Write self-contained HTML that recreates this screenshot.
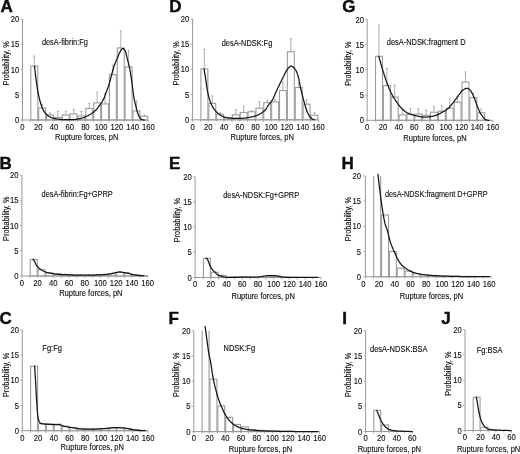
<!DOCTYPE html>
<html><head><meta charset="utf-8"><style>
html,body{margin:0;padding:0;background:#fff;width:520px;height:454px;overflow:hidden}
svg{display:block;filter:grayscale(1)}
text{font-family:"Liberation Sans", sans-serif;fill:#0d0d0d}
</style></head><body>
<svg width="520" height="454" viewBox="0 0 520 454">
<g><g fill="#fff" stroke="#9c9c9c" stroke-width="1.1"><rect x="30.81" y="66.07" width="6.96" height="53.93"/><rect x="38.67" y="107.9" width="6.96" height="12.1"/><rect x="46.53" y="114.96" width="6.96" height="5.04"/><rect x="54.39" y="117.48" width="6.96" height="2.52"/><rect x="62.25" y="114.96" width="6.96" height="5.04"/><rect x="70.11" y="113.95" width="6.96" height="6.05"/><rect x="77.97" y="115.97" width="6.96" height="4.03"/><rect x="85.83" y="108.41" width="6.96" height="11.59"/><rect x="93.69" y="102.86" width="6.96" height="17.14"/><rect x="101.55" y="103.87" width="6.96" height="16.13"/><rect x="109.41" y="74.64" width="6.96" height="45.36"/><rect x="117.27" y="47.93" width="6.96" height="72.07"/><rect x="125.13" y="66.83" width="6.96" height="53.17"/><rect x="132.99" y="110.93" width="6.96" height="9.07"/><rect x="140.85" y="116.22" width="6.96" height="3.78"/></g><path d="M34.29 66.07V55.99M33.29 55.99h2M42.15 107.9V104.38M41.15 104.38h2M50.01 114.96V112.94M49.01 112.94h2M57.87 117.48V111.43M56.87 111.43h2M65.73 114.96V111.43M64.73 111.43h2M73.59 113.95V109.42M72.59 109.42h2M81.45 115.97V111.43M80.45 111.43h2M89.31 108.41V103.37M88.31 103.37h2M97.17 102.86V92.28M96.17 92.28h2M105.03 103.87V93.79M104.03 93.79h2M112.89 74.64V65.06M111.89 65.06h2M120.75 47.93V30.79M119.75 30.79h2M128.61 66.83V50.45M127.61 50.45h2M136.47 110.93V100.85M135.47 100.85h2M144.33 116.22V114.96M143.33 114.96h2" stroke="#9c9c9c" stroke-width="0.8" fill="none"/><path d="M22.5 19.2V120H148.26" stroke="#9a9a9a" stroke-width="1.0" fill="none"/><path d="M20.5 120h2M20.5 94.8h2M20.5 69.6h2M20.5 44.4h2M20.5 19.2h2M22.5 120v2M30.36 120v2M38.22 120v2M46.08 120v2M53.94 120v2M61.8 120v2M69.66 120v2M77.52 120v2M85.38 120v2M93.24 120v2M101.1 120v2M108.96 120v2M116.82 120v2M124.68 120v2M132.54 120v2M140.4 120v2M148.26 120v2" stroke="#9a9a9a" stroke-width="0.8" fill="none"/><path d="M34.5 66.1L35.1 71.3L35.6 76.1L36.2 80.5L36.7 84.5L37.3 88.1L37.8 91.3L38.4 94.1L38.9 96.6L39.5 98.9L40.0 101.0L40.6 103.0L41.1 104.8L41.7 106.4L42.2 107.7L42.8 109.0L43.3 110.1L43.9 111.1L44.4 111.9L45.0 112.6L45.5 113.3L46.1 113.9L46.6 114.5L47.2 115.0L47.7 115.5L48.3 115.9L48.8 116.2L49.3 116.5L49.9 116.8L50.4 117.1L51.0 117.3L51.5 117.6L52.1 117.8L52.6 118.0L53.2 118.2L53.7 118.3L54.3 118.5L54.8 118.6L55.4 118.7L55.9 118.8L56.5 118.9L57.0 119.0L57.6 119.1L58.1 119.1L58.7 119.2L59.2 119.3L59.8 119.3L60.3 119.4L60.9 119.4L61.4 119.5L62.0 119.5L62.5 119.6L63.1 119.6L63.6 119.6L64.2 119.6L64.7 119.6L65.3 119.6L65.8 119.7L66.4 119.7L66.9 119.7L67.5 119.7L68.0 119.7L68.6 119.7L69.1 119.7L69.7 119.7L70.2 119.7L70.8 119.7L71.3 119.7L71.9 119.6L72.4 119.6L73.0 119.6L73.5 119.5L74.1 119.5L74.6 119.4L75.2 119.4L75.7 119.3L76.3 119.3L76.8 119.2L77.3 119.1L77.9 119.0L78.4 118.9L79.0 118.8L79.5 118.7L80.1 118.6L80.6 118.4L81.2 118.3L81.7 118.2L82.3 118.0L82.8 117.9L83.4 117.7L83.9 117.5L84.5 117.3L85.0 117.0L85.6 116.8L86.1 116.5L86.7 116.3L87.2 116.0L87.8 115.7L88.3 115.4L88.9 115.1L89.4 114.8L90.0 114.5L90.5 114.2L91.1 113.8L91.6 113.5L92.2 113.1L92.7 112.7L93.3 112.3L93.8 111.8L94.4 111.4L94.9 110.9L95.5 110.4L96.0 109.8L96.6 109.2L97.1 108.6L97.7 107.9L98.2 107.1L98.8 106.4L99.3 105.6L99.9 104.8L100.4 104.1L101.0 103.3L101.5 102.6L102.1 101.7L102.6 100.9L103.2 99.9L103.7 98.8L104.3 97.6L104.8 96.1L105.3 94.6L105.9 93.1L106.4 91.7L107.0 90.2L107.5 88.8L108.1 87.3L108.6 85.7L109.2 84.0L109.7 82.0L110.3 80.0L110.8 77.9L111.4 75.8L111.9 73.7L112.5 71.5L113.0 69.6L113.6 67.8L114.1 66.1L114.7 64.5L115.2 63.1L115.8 61.7L116.3 60.4L116.9 59.2L117.4 57.9L118.0 56.6L118.5 55.2L119.1 53.8L119.6 52.6L120.2 51.6L120.7 50.6L121.3 49.7L121.8 49.0L122.4 48.5L122.9 48.5L123.5 48.7L124.0 49.2L124.6 49.8L125.1 50.7L125.7 52.1L126.2 54.0L126.8 56.4L127.3 58.8L127.9 61.0L128.4 63.1L129.0 65.3L129.5 67.8L130.1 70.7L130.6 73.8L131.2 77.2L131.7 81.1L132.3 85.3L132.8 89.5L133.3 93.5L133.9 97.2L134.4 100.3L135.0 102.6L135.5 104.7L136.1 107.1L136.6 109.5L137.2 111.4L137.7 113.1L138.3 114.6L138.8 115.9L139.4 117.0L139.9 117.9L140.5 118.5L141.0 119.0L141.6 119.3L142.1 119.6L142.7 119.7L143.2 119.9L143.8 120.0L144.3 120.0" stroke="#141414" stroke-width="1.25" fill="none" stroke-linejoin="round" stroke-linecap="round"/></g>
<g><text x="14.95" y="123" font-size="8.5" textLength="4.25" lengthAdjust="spacingAndGlyphs" stroke="#0d0d0d" stroke-width="0.12">0</text><text x="14.95" y="97.8" font-size="8.5" textLength="4.25" lengthAdjust="spacingAndGlyphs" stroke="#0d0d0d" stroke-width="0.12">5</text><text x="10.69" y="72.6" font-size="8.5" textLength="8.51" lengthAdjust="spacingAndGlyphs" stroke="#0d0d0d" stroke-width="0.12">10</text><text x="10.69" y="47.4" font-size="8.5" textLength="8.51" lengthAdjust="spacingAndGlyphs" stroke="#0d0d0d" stroke-width="0.12">15</text><text x="10.69" y="22.2" font-size="8.5" textLength="8.51" lengthAdjust="spacingAndGlyphs" stroke="#0d0d0d" stroke-width="0.12">20</text><text x="20.37" y="129.8" font-size="8.5" textLength="4.25" lengthAdjust="spacingAndGlyphs" stroke="#0d0d0d" stroke-width="0.12">0</text><text x="33.97" y="129.8" font-size="8.5" textLength="8.51" lengthAdjust="spacingAndGlyphs" stroke="#0d0d0d" stroke-width="0.12">20</text><text x="49.69" y="129.8" font-size="8.5" textLength="8.51" lengthAdjust="spacingAndGlyphs" stroke="#0d0d0d" stroke-width="0.12">40</text><text x="65.41" y="129.8" font-size="8.5" textLength="8.51" lengthAdjust="spacingAndGlyphs" stroke="#0d0d0d" stroke-width="0.12">60</text><text x="81.13" y="129.8" font-size="8.5" textLength="8.51" lengthAdjust="spacingAndGlyphs" stroke="#0d0d0d" stroke-width="0.12">80</text><text x="94.72" y="129.8" font-size="8.5" textLength="12.76" lengthAdjust="spacingAndGlyphs" stroke="#0d0d0d" stroke-width="0.12">100</text><text x="110.44" y="129.8" font-size="8.5" textLength="12.76" lengthAdjust="spacingAndGlyphs" stroke="#0d0d0d" stroke-width="0.12">120</text><text x="126.16" y="129.8" font-size="8.5" textLength="12.76" lengthAdjust="spacingAndGlyphs" stroke="#0d0d0d" stroke-width="0.12">140</text><text x="141.88" y="129.8" font-size="8.5" textLength="12.76" lengthAdjust="spacingAndGlyphs" stroke="#0d0d0d" stroke-width="0.12">160</text></g>
<g><g fill="#fff" stroke="#9c9c9c" stroke-width="1.1"><rect x="200.91" y="68.9" width="6.96" height="50.9"/><rect x="208.77" y="103.42" width="6.96" height="16.38"/><rect x="216.63" y="114.26" width="6.96" height="5.54"/><rect x="224.49" y="117.78" width="6.96" height="2.02"/><rect x="232.35" y="114.76" width="6.96" height="5.04"/><rect x="240.21" y="112.49" width="6.96" height="7.31"/><rect x="248.07" y="111.74" width="6.96" height="8.06"/><rect x="255.93" y="108.21" width="6.96" height="11.59"/><rect x="263.79" y="102.66" width="6.96" height="17.14"/><rect x="271.65" y="101.91" width="6.96" height="17.89"/><rect x="279.51" y="90.57" width="6.96" height="29.23"/><rect x="287.37" y="51.76" width="6.96" height="68.04"/><rect x="295.23" y="87.54" width="6.96" height="32.26"/><rect x="303.09" y="104.18" width="6.96" height="15.62"/><rect x="310.95" y="115.26" width="6.96" height="4.54"/></g><path d="M204.39 68.9V49.24M203.39 49.24h2M212.25 103.42V95.86M211.25 95.86h2M220.11 114.26V112.74M219.11 112.74h2M227.97 117.78V117.28M226.97 117.28h2M235.83 114.76V109.72M234.83 109.72h2M243.69 112.49V106.19M242.69 106.19h2M251.55 111.74V110.73M250.55 110.73h2M259.41 108.21V101.66M258.41 101.66h2M267.27 102.66V100.14M266.27 100.14h2M275.13 101.91V99.64M274.13 99.64h2M282.99 90.57V82M281.99 82h2M290.85 51.76V38.66M289.85 38.66h2M298.71 87.54V83.01M297.71 83.01h2M306.57 104.18V99.64M305.57 99.64h2M314.43 115.26V112.49M313.43 112.49h2" stroke="#9c9c9c" stroke-width="0.8" fill="none"/><path d="M192.6 19V119.8H318.36" stroke="#9a9a9a" stroke-width="1.0" fill="none"/><path d="M190.6 119.8h2M190.6 94.6h2M190.6 69.4h2M190.6 44.2h2M190.6 19h2M192.6 119.8v2M200.46 119.8v2M208.32 119.8v2M216.18 119.8v2M224.04 119.8v2M231.9 119.8v2M239.76 119.8v2M247.62 119.8v2M255.48 119.8v2M263.34 119.8v2M271.2 119.8v2M279.06 119.8v2M286.92 119.8v2M294.78 119.8v2M302.64 119.8v2M310.5 119.8v2M318.36 119.8v2" stroke="#9a9a9a" stroke-width="0.8" fill="none"/><path d="M204.1 68.9L204.6 72.3L205.2 75.9L205.7 79.4L206.3 83.2L206.8 87.1L207.4 90.4L207.9 93.2L208.5 95.6L209.0 97.7L209.6 99.6L210.1 101.2L210.7 102.8L211.2 104.1L211.8 105.3L212.3 106.4L212.9 107.3L213.4 108.2L214.0 109.0L214.5 109.7L215.1 110.4L215.6 111.0L216.2 111.6L216.7 112.2L217.3 112.7L217.8 113.2L218.4 113.6L218.9 114.1L219.4 114.5L220.0 114.9L220.5 115.2L221.1 115.6L221.6 115.9L222.2 116.2L222.7 116.4L223.3 116.7L223.8 116.9L224.4 117.1L224.9 117.3L225.5 117.4L226.0 117.5L226.6 117.7L227.1 117.8L227.7 117.9L228.2 118.0L228.8 118.1L229.3 118.1L229.9 118.2L230.4 118.2L231.0 118.2L231.5 118.3L232.1 118.3L232.6 118.3L233.2 118.4L233.7 118.4L234.3 118.4L234.8 118.4L235.4 118.4L235.9 118.4L236.5 118.4L237.0 118.4L237.6 118.4L238.1 118.4L238.7 118.4L239.2 118.4L239.8 118.4L240.3 118.4L240.9 118.4L241.4 118.3L242.0 118.3L242.5 118.2L243.1 118.2L243.6 118.1L244.2 118.1L244.7 118.0L245.3 118.0L245.8 117.9L246.4 117.8L246.9 117.8L247.4 117.7L248.0 117.6L248.5 117.5L249.1 117.4L249.6 117.3L250.2 117.2L250.7 117.1L251.3 117.0L251.8 116.9L252.4 116.8L252.9 116.7L253.5 116.5L254.0 116.4L254.6 116.2L255.1 116.1L255.7 115.9L256.2 115.7L256.8 115.5L257.3 115.2L257.9 115.0L258.4 114.7L259.0 114.4L259.5 114.1L260.1 113.8L260.6 113.5L261.2 113.2L261.7 112.9L262.3 112.5L262.8 112.1L263.4 111.7L263.9 111.3L264.5 110.8L265.0 110.3L265.6 109.6L266.1 108.8L266.7 108.0L267.2 107.0L267.8 106.1L268.3 105.3L268.9 104.5L269.4 103.8L270.0 103.2L270.5 102.5L271.1 101.8L271.6 101.0L272.2 100.2L272.7 99.3L273.3 98.2L273.8 97.1L274.4 95.8L274.9 94.6L275.4 93.3L276.0 92.0L276.5 90.8L277.1 89.7L277.6 88.5L278.2 87.3L278.7 86.1L279.3 85.0L279.8 83.8L280.4 82.7L280.9 81.6L281.5 80.5L282.0 79.4L282.6 78.4L283.1 77.3L283.7 76.2L284.2 75.0L284.8 73.9L285.3 72.7L285.9 71.6L286.4 70.7L287.0 69.8L287.5 69.0L288.1 68.3L288.6 67.8L289.2 67.2L289.7 66.7L290.3 66.3L290.8 66.0L291.4 66.1L291.9 66.3L292.5 66.6L293.0 66.9L293.6 67.4L294.1 67.9L294.7 68.5L295.2 69.3L295.8 70.2L296.3 71.2L296.9 72.4L297.4 73.9L298.0 75.6L298.5 77.7L299.1 80.4L299.6 83.2L300.2 85.9L300.7 88.6L301.3 91.0L301.8 93.1L302.4 95.2L302.9 97.3L303.4 99.5L304.0 101.5L304.5 103.5L305.1 105.4L305.6 107.3L306.2 109.0L306.7 110.6L307.3 112.0L307.8 113.2L308.4 114.3L308.9 115.3L309.5 116.2L310.0 117.0L310.6 117.6L311.1 118.1L311.7 118.6L312.2 119.0L312.8 119.2L313.3 119.4L313.9 119.6L314.4 119.7" stroke="#141414" stroke-width="1.25" fill="none" stroke-linejoin="round" stroke-linecap="round"/></g>
<g><text x="185.05" y="122.8" font-size="8.5" textLength="4.25" lengthAdjust="spacingAndGlyphs" stroke="#0d0d0d" stroke-width="0.12">0</text><text x="185.05" y="97.6" font-size="8.5" textLength="4.25" lengthAdjust="spacingAndGlyphs" stroke="#0d0d0d" stroke-width="0.12">5</text><text x="180.79" y="72.4" font-size="8.5" textLength="8.51" lengthAdjust="spacingAndGlyphs" stroke="#0d0d0d" stroke-width="0.12">10</text><text x="180.79" y="47.2" font-size="8.5" textLength="8.51" lengthAdjust="spacingAndGlyphs" stroke="#0d0d0d" stroke-width="0.12">15</text><text x="180.79" y="22" font-size="8.5" textLength="8.51" lengthAdjust="spacingAndGlyphs" stroke="#0d0d0d" stroke-width="0.12">20</text><text x="190.47" y="129.6" font-size="8.5" textLength="4.25" lengthAdjust="spacingAndGlyphs" stroke="#0d0d0d" stroke-width="0.12">0</text><text x="204.07" y="129.6" font-size="8.5" textLength="8.51" lengthAdjust="spacingAndGlyphs" stroke="#0d0d0d" stroke-width="0.12">20</text><text x="219.79" y="129.6" font-size="8.5" textLength="8.51" lengthAdjust="spacingAndGlyphs" stroke="#0d0d0d" stroke-width="0.12">40</text><text x="235.51" y="129.6" font-size="8.5" textLength="8.51" lengthAdjust="spacingAndGlyphs" stroke="#0d0d0d" stroke-width="0.12">60</text><text x="251.23" y="129.6" font-size="8.5" textLength="8.51" lengthAdjust="spacingAndGlyphs" stroke="#0d0d0d" stroke-width="0.12">80</text><text x="264.82" y="129.6" font-size="8.5" textLength="12.76" lengthAdjust="spacingAndGlyphs" stroke="#0d0d0d" stroke-width="0.12">100</text><text x="280.54" y="129.6" font-size="8.5" textLength="12.76" lengthAdjust="spacingAndGlyphs" stroke="#0d0d0d" stroke-width="0.12">120</text><text x="296.26" y="129.6" font-size="8.5" textLength="12.76" lengthAdjust="spacingAndGlyphs" stroke="#0d0d0d" stroke-width="0.12">140</text><text x="311.98" y="129.6" font-size="8.5" textLength="12.76" lengthAdjust="spacingAndGlyphs" stroke="#0d0d0d" stroke-width="0.12">160</text></g>
<g><g fill="#fff" stroke="#9c9c9c" stroke-width="1.1"><rect x="375.51" y="56.29" width="6.96" height="64.01"/><rect x="383.37" y="85.52" width="6.96" height="34.78"/><rect x="391.23" y="97.12" width="6.96" height="23.18"/><rect x="399.09" y="114.91" width="6.96" height="5.39"/><rect x="406.95" y="114.1" width="6.96" height="6.2"/><rect x="414.81" y="114.1" width="6.96" height="6.2"/><rect x="422.67" y="115.41" width="6.96" height="4.89"/><rect x="430.53" y="112.24" width="6.96" height="8.06"/><rect x="438.39" y="111.23" width="6.96" height="9.07"/><rect x="446.25" y="108.2" width="6.96" height="12.1"/><rect x="454.11" y="102.16" width="6.96" height="18.14"/><rect x="461.97" y="82" width="6.96" height="38.3"/><rect x="469.83" y="97.62" width="6.96" height="22.68"/><rect x="477.69" y="112.74" width="6.96" height="7.56"/></g><path d="M378.99 56.29V25.04M377.99 25.04h2M386.85 85.52V68.39M385.85 68.39h2M394.71 97.12V85.02M393.71 85.02h2M402.57 114.91V110.22M401.57 110.22h2M410.43 114.1V108.41M409.43 108.41h2M418.29 114.1V108.71M417.29 108.71h2M426.15 115.41V110.22M425.15 110.22h2M434.01 112.24V106.69M433.01 106.69h2M441.87 111.23V105.68M440.87 105.68h2M449.73 108.2V98.63M448.73 98.63h2M457.59 102.16V96.61M456.59 96.61h2M465.45 82V71.92M464.45 71.92h2M473.31 97.62V92.83M472.31 92.83h2M481.17 112.74V109.21M480.17 109.21h2" stroke="#9c9c9c" stroke-width="0.8" fill="none"/><path d="M367.2 19.5V120.3H492.96" stroke="#9a9a9a" stroke-width="1.0" fill="none"/><path d="M365.2 120.3h2M365.2 95.1h2M365.2 69.9h2M365.2 44.7h2M365.2 19.5h2M367.2 120.3v2M375.06 120.3v2M382.92 120.3v2M390.78 120.3v2M398.64 120.3v2M406.5 120.3v2M414.36 120.3v2M422.22 120.3v2M430.08 120.3v2M437.94 120.3v2M445.8 120.3v2M453.66 120.3v2M461.52 120.3v2M469.38 120.3v2M477.24 120.3v2M485.1 120.3v2M492.96 120.3v2" stroke="#9a9a9a" stroke-width="0.8" fill="none"/><path d="M378.8 56.3L379.4 58.3L379.9 60.3L380.5 62.3L381.0 64.2L381.6 66.1L382.1 68.0L382.7 69.8L383.2 71.6L383.8 73.4L384.3 75.1L384.9 76.8L385.4 78.4L386.0 80.1L386.5 81.6L387.1 83.1L387.6 84.6L388.2 86.0L388.7 87.4L389.2 88.8L389.8 90.1L390.3 91.4L390.9 92.5L391.4 93.6L392.0 94.6L392.5 95.6L393.1 96.6L393.6 97.5L394.2 98.3L394.7 99.2L395.3 100.0L395.8 100.8L396.4 101.6L396.9 102.4L397.5 103.2L398.0 104.0L398.6 104.8L399.1 105.5L399.7 106.2L400.2 106.9L400.8 107.5L401.3 108.1L401.9 108.6L402.4 109.1L403.0 109.6L403.5 110.1L404.1 110.6L404.6 111.0L405.1 111.5L405.7 111.9L406.2 112.2L406.8 112.6L407.3 112.9L407.9 113.2L408.4 113.4L409.0 113.7L409.5 113.9L410.1 114.1L410.6 114.3L411.2 114.5L411.7 114.6L412.3 114.8L412.8 115.0L413.4 115.1L413.9 115.3L414.5 115.4L415.0 115.5L415.6 115.6L416.1 115.8L416.7 115.9L417.2 116.0L417.8 116.1L418.3 116.3L418.9 116.4L419.4 116.5L420.0 116.6L420.5 116.7L421.0 116.8L421.6 116.9L422.1 117.0L422.7 117.0L423.2 117.1L423.8 117.1L424.3 117.1L424.9 117.1L425.4 117.1L426.0 117.1L426.5 117.0L427.1 117.0L427.6 117.0L428.2 116.9L428.7 116.8L429.3 116.8L429.8 116.7L430.4 116.6L430.9 116.5L431.5 116.4L432.0 116.3L432.6 116.3L433.1 116.2L433.7 116.0L434.2 115.9L434.8 115.7L435.3 115.6L435.9 115.4L436.4 115.2L436.9 115.0L437.5 114.7L438.0 114.5L438.6 114.2L439.1 113.9L439.7 113.7L440.2 113.4L440.8 113.0L441.3 112.7L441.9 112.4L442.4 112.1L443.0 111.8L443.5 111.5L444.1 111.2L444.6 110.9L445.2 110.6L445.7 110.2L446.3 109.9L446.8 109.5L447.4 109.1L447.9 108.6L448.5 108.1L449.0 107.6L449.6 107.0L450.1 106.3L450.7 105.7L451.2 105.0L451.7 104.4L452.3 103.7L452.8 103.0L453.4 102.3L453.9 101.6L454.5 100.9L455.0 100.1L455.6 99.3L456.1 98.6L456.7 97.8L457.2 97.0L457.8 96.3L458.3 95.6L458.9 94.9L459.4 94.2L460.0 93.4L460.5 92.7L461.1 92.0L461.6 91.4L462.2 90.8L462.7 90.3L463.3 89.8L463.8 89.5L464.4 89.2L464.9 88.9L465.5 88.6L466.0 88.4L466.6 88.3L467.1 88.3L467.6 88.4L468.2 88.7L468.7 89.0L469.3 89.4L469.8 89.9L470.4 90.4L470.9 91.2L471.5 92.1L472.0 93.1L472.6 94.1L473.1 95.2L473.7 96.4L474.2 97.8L474.8 99.3L475.3 100.8L475.9 102.4L476.4 103.9L477.0 105.3L477.5 106.7L478.1 108.1L478.6 109.5L479.2 110.8L479.7 112.0L480.3 113.1L480.8 113.9L481.4 114.7L481.9 115.4L482.5 116.2L483.0 117.0L483.5 117.8L484.1 118.5L484.6 119.0L485.2 119.4L485.7 119.7L486.3 119.9L486.8 120.1L487.4 120.2L487.9 120.2L488.5 120.3L489.0 120.3" stroke="#141414" stroke-width="1.25" fill="none" stroke-linejoin="round" stroke-linecap="round"/></g>
<g><text x="359.65" y="123.3" font-size="8.5" textLength="4.25" lengthAdjust="spacingAndGlyphs" stroke="#0d0d0d" stroke-width="0.12">0</text><text x="359.65" y="98.1" font-size="8.5" textLength="4.25" lengthAdjust="spacingAndGlyphs" stroke="#0d0d0d" stroke-width="0.12">5</text><text x="355.39" y="72.9" font-size="8.5" textLength="8.51" lengthAdjust="spacingAndGlyphs" stroke="#0d0d0d" stroke-width="0.12">10</text><text x="355.39" y="47.7" font-size="8.5" textLength="8.51" lengthAdjust="spacingAndGlyphs" stroke="#0d0d0d" stroke-width="0.12">15</text><text x="355.39" y="22.5" font-size="8.5" textLength="8.51" lengthAdjust="spacingAndGlyphs" stroke="#0d0d0d" stroke-width="0.12">20</text><text x="365.07" y="130.1" font-size="8.5" textLength="4.25" lengthAdjust="spacingAndGlyphs" stroke="#0d0d0d" stroke-width="0.12">0</text><text x="378.67" y="130.1" font-size="8.5" textLength="8.51" lengthAdjust="spacingAndGlyphs" stroke="#0d0d0d" stroke-width="0.12">20</text><text x="394.39" y="130.1" font-size="8.5" textLength="8.51" lengthAdjust="spacingAndGlyphs" stroke="#0d0d0d" stroke-width="0.12">40</text><text x="410.11" y="130.1" font-size="8.5" textLength="8.51" lengthAdjust="spacingAndGlyphs" stroke="#0d0d0d" stroke-width="0.12">60</text><text x="425.83" y="130.1" font-size="8.5" textLength="8.51" lengthAdjust="spacingAndGlyphs" stroke="#0d0d0d" stroke-width="0.12">80</text><text x="439.42" y="130.1" font-size="8.5" textLength="12.76" lengthAdjust="spacingAndGlyphs" stroke="#0d0d0d" stroke-width="0.12">100</text><text x="455.14" y="130.1" font-size="8.5" textLength="12.76" lengthAdjust="spacingAndGlyphs" stroke="#0d0d0d" stroke-width="0.12">120</text><text x="470.86" y="130.1" font-size="8.5" textLength="12.76" lengthAdjust="spacingAndGlyphs" stroke="#0d0d0d" stroke-width="0.12">140</text><text x="486.58" y="130.1" font-size="8.5" textLength="12.76" lengthAdjust="spacingAndGlyphs" stroke="#0d0d0d" stroke-width="0.12">160</text></g>
<g><g fill="#fff" stroke="#9c9c9c" stroke-width="1.1"><rect x="30.21" y="259.52" width="6.96" height="16.48"/><rect x="38.07" y="269.7" width="6.96" height="6.3"/><rect x="45.93" y="272.82" width="6.96" height="3.18"/><rect x="53.79" y="273.88" width="6.96" height="2.12"/><rect x="61.65" y="274.74" width="6.96" height="1.26"/><rect x="69.51" y="274.99" width="6.96" height="1.01"/><rect x="77.37" y="275.24" width="6.96" height="0.76"/><rect x="85.23" y="275.24" width="6.96" height="0.76"/><rect x="93.09" y="274.99" width="6.96" height="1.01"/><rect x="100.95" y="274.74" width="6.96" height="1.26"/><rect x="108.81" y="273.73" width="6.96" height="2.27"/><rect x="116.67" y="272.47" width="6.96" height="3.53"/><rect x="124.53" y="273.48" width="6.96" height="2.52"/><rect x="132.39" y="274.99" width="6.96" height="1.01"/><rect x="140.25" y="275.5" width="6.96" height="0.5"/></g><path d="M33.69 259.52V258.86M32.69 258.86h2M41.55 269.7V269.2M40.55 269.2h2M49.41 272.82V272.47M48.41 272.47h2M57.27 273.88V273.48M56.27 273.48h2M65.13 274.74V274.24M64.13 274.24h2M72.99 274.99V274.49M71.99 274.49h2M80.85 275.24V274.74M79.85 274.74h2M88.71 275.24V274.74M87.71 274.74h2M96.57 274.99V274.49M95.57 274.49h2M104.43 274.74V274.24M103.43 274.24h2M112.29 273.73V272.98M111.29 272.98h2M120.15 272.47V271.46M119.15 271.46h2M128.01 273.48V272.47M127.01 272.47h2M135.87 274.99V274.49M134.87 274.49h2" stroke="#9c9c9c" stroke-width="0.8" fill="none"/><path d="M21.9 175.2V276H147.66" stroke="#9a9a9a" stroke-width="1.0" fill="none"/><path d="M19.9 276h2M19.9 250.8h2M19.9 225.6h2M19.9 200.4h2M19.9 175.2h2M21.9 276v2M29.76 276v2M37.62 276v2M45.48 276v2M53.34 276v2M61.2 276v2M69.06 276v2M76.92 276v2M84.78 276v2M92.64 276v2M100.5 276v2M108.36 276v2M116.22 276v2M124.08 276v2M131.94 276v2M139.8 276v2M147.66 276v2" stroke="#9a9a9a" stroke-width="0.8" fill="none"/><path d="M32.9 259.5L33.5 259.9L34.0 260.5L34.5 261.3L35.1 262.4L35.6 263.7L36.2 264.7L36.7 265.6L37.3 266.4L37.8 267.0L38.4 267.6L38.9 268.1L39.5 268.6L40.0 269.1L40.6 269.5L41.1 269.8L41.7 270.2L42.2 270.5L42.8 270.8L43.3 271.0L43.9 271.3L44.4 271.5L45.0 271.8L45.5 272.0L46.1 272.2L46.6 272.4L47.2 272.5L47.7 272.7L48.3 272.8L48.8 272.9L49.4 273.0L49.9 273.1L50.5 273.2L51.0 273.3L51.6 273.4L52.1 273.5L52.7 273.6L53.2 273.7L53.8 273.8L54.3 273.9L54.8 274.0L55.4 274.0L55.9 274.1L56.5 274.2L57.0 274.2L57.6 274.2L58.1 274.3L58.7 274.3L59.2 274.3L59.8 274.4L60.3 274.4L60.9 274.4L61.4 274.5L62.0 274.5L62.5 274.5L63.1 274.5L63.6 274.5L64.2 274.6L64.7 274.6L65.3 274.6L65.8 274.7L66.4 274.7L66.9 274.7L67.5 274.7L68.0 274.8L68.6 274.8L69.1 274.8L69.7 274.9L70.2 274.9L70.8 274.9L71.3 274.9L71.9 275.0L72.4 275.0L73.0 275.0L73.5 275.0L74.1 275.0L74.6 275.0L75.1 275.0L75.7 275.0L76.2 275.0L76.8 275.0L77.3 275.0L77.9 275.0L78.4 275.0L79.0 275.0L79.5 275.0L80.1 275.0L80.6 275.0L81.2 275.0L81.7 275.0L82.3 275.0L82.8 275.0L83.4 275.0L83.9 275.0L84.5 275.0L85.0 275.0L85.6 275.0L86.1 275.0L86.7 275.0L87.2 275.0L87.8 275.0L88.3 275.0L88.9 275.0L89.4 275.0L90.0 275.0L90.5 275.0L91.1 275.0L91.6 275.0L92.2 275.0L92.7 275.0L93.3 275.0L93.8 275.0L94.4 275.0L94.9 275.0L95.4 275.0L96.0 274.9L96.5 274.9L97.1 274.9L97.6 274.9L98.2 274.9L98.7 274.8L99.3 274.8L99.8 274.8L100.4 274.8L100.9 274.7L101.5 274.7L102.0 274.7L102.6 274.6L103.1 274.6L103.7 274.6L104.2 274.5L104.8 274.5L105.3 274.4L105.9 274.4L106.4 274.4L107.0 274.3L107.5 274.3L108.1 274.2L108.6 274.1L109.2 274.1L109.7 274.0L110.3 273.9L110.8 273.9L111.4 273.8L111.9 273.7L112.5 273.5L113.0 273.3L113.6 273.1L114.1 273.0L114.7 272.8L115.2 272.6L115.7 272.5L116.3 272.4L116.8 272.3L117.4 272.2L117.9 272.1L118.5 272.0L119.0 272.0L119.6 271.9L120.1 271.9L120.7 272.0L121.2 272.0L121.8 272.1L122.3 272.2L122.9 272.3L123.4 272.4L124.0 272.5L124.5 272.5L125.1 272.6L125.6 272.7L126.2 272.8L126.7 272.9L127.3 273.0L127.8 273.1L128.4 273.3L128.9 273.4L129.5 273.6L130.0 273.8L130.6 274.0L131.1 274.2L131.7 274.3L132.2 274.5L132.8 274.6L133.3 274.7L133.9 274.8L134.4 274.8L135.0 274.9L135.5 275.0L136.0 275.1L136.6 275.1L137.1 275.2L137.7 275.3L138.2 275.3L138.8 275.4L139.3 275.4L139.9 275.5L140.4 275.5L141.0 275.5L141.5 275.6L142.1 275.6L142.6 275.7L143.2 275.7L143.7 275.7" stroke="#141414" stroke-width="1.25" fill="none" stroke-linejoin="round" stroke-linecap="round"/></g>
<g><text x="14.35" y="279" font-size="8.5" textLength="4.25" lengthAdjust="spacingAndGlyphs" stroke="#0d0d0d" stroke-width="0.12">0</text><text x="14.35" y="253.8" font-size="8.5" textLength="4.25" lengthAdjust="spacingAndGlyphs" stroke="#0d0d0d" stroke-width="0.12">5</text><text x="10.09" y="228.6" font-size="8.5" textLength="8.51" lengthAdjust="spacingAndGlyphs" stroke="#0d0d0d" stroke-width="0.12">10</text><text x="10.09" y="203.4" font-size="8.5" textLength="8.51" lengthAdjust="spacingAndGlyphs" stroke="#0d0d0d" stroke-width="0.12">15</text><text x="10.09" y="178.2" font-size="8.5" textLength="8.51" lengthAdjust="spacingAndGlyphs" stroke="#0d0d0d" stroke-width="0.12">20</text><text x="19.77" y="285.8" font-size="8.5" textLength="4.25" lengthAdjust="spacingAndGlyphs" stroke="#0d0d0d" stroke-width="0.12">0</text><text x="33.37" y="285.8" font-size="8.5" textLength="8.51" lengthAdjust="spacingAndGlyphs" stroke="#0d0d0d" stroke-width="0.12">20</text><text x="49.09" y="285.8" font-size="8.5" textLength="8.51" lengthAdjust="spacingAndGlyphs" stroke="#0d0d0d" stroke-width="0.12">40</text><text x="64.81" y="285.8" font-size="8.5" textLength="8.51" lengthAdjust="spacingAndGlyphs" stroke="#0d0d0d" stroke-width="0.12">60</text><text x="80.53" y="285.8" font-size="8.5" textLength="8.51" lengthAdjust="spacingAndGlyphs" stroke="#0d0d0d" stroke-width="0.12">80</text><text x="94.12" y="285.8" font-size="8.5" textLength="12.76" lengthAdjust="spacingAndGlyphs" stroke="#0d0d0d" stroke-width="0.12">100</text><text x="109.84" y="285.8" font-size="8.5" textLength="12.76" lengthAdjust="spacingAndGlyphs" stroke="#0d0d0d" stroke-width="0.12">120</text><text x="125.56" y="285.8" font-size="8.5" textLength="12.76" lengthAdjust="spacingAndGlyphs" stroke="#0d0d0d" stroke-width="0.12">140</text><text x="141.28" y="285.8" font-size="8.5" textLength="12.76" lengthAdjust="spacingAndGlyphs" stroke="#0d0d0d" stroke-width="0.12">160</text></g>
<g><g fill="#fff" stroke="#9c9c9c" stroke-width="1.1"><rect x="203.41" y="258.4" width="6.96" height="19.1"/><rect x="211.27" y="272.31" width="6.96" height="5.19"/><rect x="219.13" y="275.48" width="6.96" height="2.02"/><rect x="226.99" y="277" width="6.96" height="0.5"/><rect x="234.85" y="276.74" width="6.96" height="0.76"/><rect x="242.71" y="277" width="6.96" height="0.5"/><rect x="250.57" y="277.25" width="6.96" height="0.25"/><rect x="258.43" y="277.25" width="6.96" height="0.25"/><rect x="266.29" y="276.24" width="6.96" height="1.26"/><rect x="274.15" y="276.24" width="6.96" height="1.26"/><rect x="282.01" y="277" width="6.96" height="0.5"/><rect x="289.87" y="277.25" width="6.96" height="0.25"/></g><path d="M206.89 258.4V257.84M205.89 257.84h2M214.75 272.31V271.45M213.75 271.45h2M222.61 275.48V274.98M221.61 274.98h2" stroke="#9c9c9c" stroke-width="0.8" fill="none"/><path d="M195.1 176.7V277.5H320.86" stroke="#9a9a9a" stroke-width="1.0" fill="none"/><path d="M193.1 277.5h2M193.1 252.3h2M193.1 227.1h2M193.1 201.9h2M193.1 176.7h2M195.1 277.5v2M202.96 277.5v2M210.82 277.5v2M218.68 277.5v2M226.54 277.5v2M234.4 277.5v2M242.26 277.5v2M250.12 277.5v2M257.98 277.5v2M265.84 277.5v2M273.7 277.5v2M281.56 277.5v2M289.42 277.5v2M297.28 277.5v2M305.14 277.5v2M313 277.5v2M320.86 277.5v2" stroke="#9a9a9a" stroke-width="0.8" fill="none"/><path d="M206.0 258.4L206.6 258.5L207.1 258.9L207.7 259.6L208.2 261.1L208.8 262.6L209.3 264.1L209.9 265.5L210.4 266.7L211.0 267.6L211.5 268.4L212.0 269.2L212.6 269.9L213.1 270.5L213.7 271.1L214.2 271.6L214.8 272.1L215.3 272.6L215.9 273.2L216.4 273.7L217.0 274.2L217.5 274.7L218.1 275.1L218.6 275.4L219.2 275.6L219.7 275.7L220.3 275.9L220.8 276.0L221.4 276.1L221.9 276.3L222.5 276.5L223.0 276.7L223.5 276.9L224.1 277.0L224.6 277.1L225.2 277.2L225.7 277.3L226.3 277.3L226.8 277.4L227.4 277.4L227.9 277.4L228.5 277.4L229.0 277.4L229.6 277.4L230.1 277.4L230.7 277.4L231.2 277.4L231.8 277.4L232.3 277.4L232.9 277.4L233.4 277.3L233.9 277.3L234.5 277.3L235.0 277.3L235.6 277.3L236.1 277.3L236.7 277.3L237.2 277.3L237.8 277.3L238.3 277.3L238.9 277.3L239.4 277.3L240.0 277.2L240.5 277.2L241.1 277.2L241.6 277.2L242.2 277.2L242.7 277.2L243.3 277.2L243.8 277.2L244.4 277.2L244.9 277.2L245.4 277.2L246.0 277.2L246.5 277.2L247.1 277.2L247.6 277.2L248.2 277.2L248.7 277.2L249.3 277.2L249.8 277.2L250.4 277.2L250.9 277.2L251.5 277.2L252.0 277.2L252.6 277.2L253.1 277.2L253.7 277.2L254.2 277.1L254.8 277.1L255.3 277.1L255.8 277.1L256.4 277.1L256.9 277.1L257.5 277.1L258.0 277.1L258.6 277.0L259.1 276.9L259.7 276.9L260.2 276.8L260.8 276.7L261.3 276.5L261.9 276.4L262.4 276.3L263.0 276.3L263.5 276.2L264.1 276.1L264.6 276.0L265.2 275.9L265.7 275.8L266.3 275.7L266.8 275.6L267.3 275.6L267.9 275.5L268.4 275.5L269.0 275.5L269.5 275.5L270.1 275.5L270.6 275.5L271.2 275.5L271.7 275.5L272.3 275.5L272.8 275.5L273.4 275.5L273.9 275.5L274.5 275.5L275.0 275.6L275.6 275.7L276.1 275.8L276.7 275.9L277.2 276.0L277.7 276.1L278.3 276.2L278.8 276.3L279.4 276.4L279.9 276.5L280.5 276.6L281.0 276.8L281.6 276.9L282.1 277.0L282.7 277.1L283.2 277.2L283.8 277.2L284.3 277.2L284.9 277.2L285.4 277.2L286.0 277.3L286.5 277.3L287.1 277.3L287.6 277.3L288.2 277.3L288.7 277.3L289.2 277.3L289.8 277.3L290.3 277.3L290.9 277.3L291.4 277.3L292.0 277.3L292.5 277.3L293.1 277.4L293.6 277.4L294.2 277.4L294.7 277.4L295.3 277.4L295.8 277.4L296.4 277.4L296.9 277.4L297.5 277.4L298.0 277.4L298.6 277.4L299.1 277.4L299.6 277.4L300.2 277.4L300.7 277.4L301.3 277.4L301.8 277.4L302.4 277.4L302.9 277.4L303.5 277.4L304.0 277.4L304.6 277.4L305.1 277.4L305.7 277.4L306.2 277.4L306.8 277.4L307.3 277.4L307.9 277.4L308.4 277.4L309.0 277.4L309.5 277.4L310.1 277.4L310.6 277.4L311.1 277.4L311.7 277.4L312.2 277.4L312.8 277.4L313.3 277.4L313.9 277.4L314.4 277.4L315.0 277.4L315.5 277.4L316.1 277.4L316.6 277.4L317.2 277.4L317.7 277.4" stroke="#141414" stroke-width="1.25" fill="none" stroke-linejoin="round" stroke-linecap="round"/></g>
<g><text x="187.55" y="280.5" font-size="8.5" textLength="4.25" lengthAdjust="spacingAndGlyphs" stroke="#0d0d0d" stroke-width="0.12">0</text><text x="187.55" y="255.3" font-size="8.5" textLength="4.25" lengthAdjust="spacingAndGlyphs" stroke="#0d0d0d" stroke-width="0.12">5</text><text x="183.29" y="230.1" font-size="8.5" textLength="8.51" lengthAdjust="spacingAndGlyphs" stroke="#0d0d0d" stroke-width="0.12">10</text><text x="183.29" y="204.9" font-size="8.5" textLength="8.51" lengthAdjust="spacingAndGlyphs" stroke="#0d0d0d" stroke-width="0.12">15</text><text x="183.29" y="179.7" font-size="8.5" textLength="8.51" lengthAdjust="spacingAndGlyphs" stroke="#0d0d0d" stroke-width="0.12">20</text><text x="192.97" y="287.3" font-size="8.5" textLength="4.25" lengthAdjust="spacingAndGlyphs" stroke="#0d0d0d" stroke-width="0.12">0</text><text x="206.57" y="287.3" font-size="8.5" textLength="8.51" lengthAdjust="spacingAndGlyphs" stroke="#0d0d0d" stroke-width="0.12">20</text><text x="222.29" y="287.3" font-size="8.5" textLength="8.51" lengthAdjust="spacingAndGlyphs" stroke="#0d0d0d" stroke-width="0.12">40</text><text x="238.01" y="287.3" font-size="8.5" textLength="8.51" lengthAdjust="spacingAndGlyphs" stroke="#0d0d0d" stroke-width="0.12">60</text><text x="253.73" y="287.3" font-size="8.5" textLength="8.51" lengthAdjust="spacingAndGlyphs" stroke="#0d0d0d" stroke-width="0.12">80</text><text x="267.32" y="287.3" font-size="8.5" textLength="12.76" lengthAdjust="spacingAndGlyphs" stroke="#0d0d0d" stroke-width="0.12">100</text><text x="283.04" y="287.3" font-size="8.5" textLength="12.76" lengthAdjust="spacingAndGlyphs" stroke="#0d0d0d" stroke-width="0.12">120</text><text x="298.76" y="287.3" font-size="8.5" textLength="12.76" lengthAdjust="spacingAndGlyphs" stroke="#0d0d0d" stroke-width="0.12">140</text><text x="314.48" y="287.3" font-size="8.5" textLength="12.76" lengthAdjust="spacingAndGlyphs" stroke="#0d0d0d" stroke-width="0.12">160</text></g>
<g><g fill="#fff" stroke="#9c9c9c" stroke-width="1.1"><path fill="none" d="M373.71 175.9V276.7H380.67V175.9"/><rect x="381.57" y="214.96" width="6.96" height="61.74"/><rect x="389.43" y="251.5" width="6.96" height="25.2"/><rect x="397.29" y="268.13" width="6.96" height="8.57"/><rect x="405.15" y="271.16" width="6.96" height="5.54"/><rect x="413.01" y="273.68" width="6.96" height="3.02"/><rect x="420.87" y="274.68" width="6.96" height="2.02"/><rect x="428.73" y="275.44" width="6.96" height="1.26"/><rect x="436.59" y="275.94" width="6.96" height="0.76"/><rect x="444.45" y="276.2" width="6.96" height="0.5"/><rect x="452.31" y="276.2" width="6.96" height="0.5"/><rect x="460.17" y="276.45" width="6.96" height="0.25"/><rect x="468.03" y="276.45" width="6.96" height="0.25"/></g><path d="M365.4 175.9V276.7H491.16" stroke="#9a9a9a" stroke-width="1.0" fill="none"/><path d="M363.4 276.7h2M363.4 251.5h2M363.4 226.3h2M363.4 201.1h2M363.4 175.9h2M365.4 276.7v2M373.26 276.7v2M381.12 276.7v2M388.98 276.7v2M396.84 276.7v2M404.7 276.7v2M412.56 276.7v2M420.42 276.7v2M428.28 276.7v2M436.14 276.7v2M444 276.7v2M451.86 276.7v2M459.72 276.7v2M467.58 276.7v2M475.44 276.7v2M483.3 276.7v2M491.16 276.7v2" stroke="#9a9a9a" stroke-width="0.8" fill="none"/><path d="M378.0 174.4L378.5 179.4L379.1 184.3L379.6 188.9L380.2 193.3L380.7 197.6L381.3 201.7L381.8 205.6L382.4 209.1L382.9 212.5L383.5 215.8L384.0 218.9L384.6 221.6L385.1 224.0L385.7 225.8L386.2 227.3L386.8 228.7L387.3 230.3L387.9 232.3L388.4 234.7L389.0 237.1L389.5 239.3L390.1 241.2L390.6 242.9L391.2 244.4L391.7 245.8L392.3 247.2L392.8 248.5L393.4 249.7L393.9 250.9L394.5 252.2L395.0 253.4L395.6 254.6L396.1 255.8L396.7 257.0L397.2 258.2L397.8 259.3L398.3 260.4L398.9 261.3L399.4 262.2L400.0 263.0L400.5 263.6L401.1 264.3L401.6 264.9L402.2 265.4L402.7 265.9L403.3 266.4L403.8 266.9L404.4 267.3L404.9 267.7L405.5 268.1L406.0 268.5L406.6 268.9L407.1 269.3L407.7 269.6L408.2 270.0L408.8 270.3L409.3 270.6L409.9 270.9L410.4 271.2L411.0 271.4L411.5 271.7L412.1 271.9L412.6 272.1L413.2 272.3L413.7 272.5L414.3 272.7L414.8 272.9L415.4 273.0L415.9 273.2L416.5 273.3L417.0 273.5L417.6 273.6L418.1 273.7L418.7 273.9L419.2 274.0L419.8 274.1L420.3 274.2L420.9 274.3L421.4 274.4L422.0 274.4L422.5 274.5L423.1 274.6L423.6 274.7L424.2 274.8L424.7 274.8L425.3 274.9L425.8 274.9L426.4 275.0L426.9 275.1L427.5 275.1L428.0 275.2L428.6 275.2L429.1 275.3L429.7 275.3L430.2 275.3L430.8 275.4L431.3 275.4L431.9 275.5L432.4 275.5L433.0 275.5L433.5 275.6L434.1 275.6L434.6 275.6L435.2 275.7L435.7 275.7L436.3 275.7L436.8 275.8L437.4 275.8L437.9 275.8L438.5 275.9L439.0 275.9L439.6 275.9L440.1 275.9L440.7 276.0L441.2 276.0L441.8 276.0L442.3 276.0L442.9 276.1L443.4 276.1L444.0 276.1L444.5 276.1L445.1 276.1L445.6 276.1L446.2 276.2L446.7 276.2L447.3 276.2L447.8 276.2L448.4 276.2L448.9 276.2L449.5 276.3L450.0 276.3L450.6 276.3L451.1 276.3L451.7 276.3L452.2 276.3L452.8 276.3L453.3 276.3L453.9 276.4L454.4 276.4L454.9 276.4L455.5 276.4L456.0 276.4L456.6 276.4L457.1 276.4L457.7 276.4L458.2 276.4L458.8 276.4L459.3 276.4L459.9 276.4L460.4 276.5L461.0 276.5L461.5 276.5L462.1 276.5L462.6 276.5L463.2 276.5L463.7 276.5L464.3 276.5L464.8 276.5L465.4 276.5L465.9 276.5L466.5 276.5L467.0 276.5L467.6 276.5L468.1 276.5L468.7 276.5L469.2 276.5L469.8 276.5L470.3 276.5L470.9 276.5L471.4 276.5L472.0 276.5L472.5 276.5L473.1 276.5L473.6 276.6L474.2 276.6L474.7 276.6L475.3 276.6L475.8 276.6L476.4 276.6L476.9 276.6L477.5 276.6L478.0 276.6L478.6 276.6L479.1 276.6L479.7 276.6L480.2 276.6L480.8 276.6L481.3 276.6L481.9 276.6L482.4 276.6L483.0 276.6L483.5 276.6L484.1 276.6L484.6 276.6L485.2 276.6L485.7 276.6L486.3 276.6L486.8 276.6L487.4 276.6L487.9 276.6L488.5 276.6L489.0 276.6L489.6 276.6" stroke="#141414" stroke-width="1.25" fill="none" stroke-linejoin="round" stroke-linecap="round"/></g>
<g><text x="356.85" y="279.7" font-size="8.5" textLength="4.25" lengthAdjust="spacingAndGlyphs" stroke="#0d0d0d" stroke-width="0.12">0</text><text x="356.85" y="254.5" font-size="8.5" textLength="4.25" lengthAdjust="spacingAndGlyphs" stroke="#0d0d0d" stroke-width="0.12">5</text><text x="352.59" y="229.3" font-size="8.5" textLength="8.51" lengthAdjust="spacingAndGlyphs" stroke="#0d0d0d" stroke-width="0.12">10</text><text x="352.59" y="204.1" font-size="8.5" textLength="8.51" lengthAdjust="spacingAndGlyphs" stroke="#0d0d0d" stroke-width="0.12">15</text><text x="352.59" y="178.9" font-size="8.5" textLength="8.51" lengthAdjust="spacingAndGlyphs" stroke="#0d0d0d" stroke-width="0.12">20</text><text x="361.27" y="286.5" font-size="8.5" textLength="4.25" lengthAdjust="spacingAndGlyphs" stroke="#0d0d0d" stroke-width="0.12">0</text><text x="374.87" y="286.5" font-size="8.5" textLength="8.51" lengthAdjust="spacingAndGlyphs" stroke="#0d0d0d" stroke-width="0.12">20</text><text x="390.59" y="286.5" font-size="8.5" textLength="8.51" lengthAdjust="spacingAndGlyphs" stroke="#0d0d0d" stroke-width="0.12">40</text><text x="406.31" y="286.5" font-size="8.5" textLength="8.51" lengthAdjust="spacingAndGlyphs" stroke="#0d0d0d" stroke-width="0.12">60</text><text x="422.03" y="286.5" font-size="8.5" textLength="8.51" lengthAdjust="spacingAndGlyphs" stroke="#0d0d0d" stroke-width="0.12">80</text><text x="435.62" y="286.5" font-size="8.5" textLength="12.76" lengthAdjust="spacingAndGlyphs" stroke="#0d0d0d" stroke-width="0.12">100</text><text x="451.34" y="286.5" font-size="8.5" textLength="12.76" lengthAdjust="spacingAndGlyphs" stroke="#0d0d0d" stroke-width="0.12">120</text><text x="467.06" y="286.5" font-size="8.5" textLength="12.76" lengthAdjust="spacingAndGlyphs" stroke="#0d0d0d" stroke-width="0.12">140</text><text x="482.78" y="286.5" font-size="8.5" textLength="12.76" lengthAdjust="spacingAndGlyphs" stroke="#0d0d0d" stroke-width="0.12">160</text></g>
<g><g fill="#fff" stroke="#9c9c9c" stroke-width="1.1"><rect x="30.61" y="366.19" width="6.96" height="64.51"/><rect x="38.47" y="423.64" width="6.96" height="7.06"/><rect x="46.33" y="423.9" width="6.96" height="6.8"/><rect x="54.19" y="424.15" width="6.96" height="6.55"/><rect x="62.05" y="426.16" width="6.96" height="4.54"/><rect x="69.91" y="427.42" width="6.96" height="3.28"/><rect x="77.77" y="428.43" width="6.96" height="2.27"/><rect x="85.63" y="429.19" width="6.96" height="1.51"/><rect x="93.49" y="428.94" width="6.96" height="1.76"/><rect x="101.35" y="428.68" width="6.96" height="2.02"/><rect x="109.21" y="427.93" width="6.96" height="2.77"/><rect x="117.07" y="427.68" width="6.96" height="3.02"/><rect x="124.93" y="428.43" width="6.96" height="2.27"/><rect x="132.79" y="429.69" width="6.96" height="1.01"/><rect x="140.65" y="430.45" width="6.96" height="0.25"/></g><path d="M22.3 329.9V430.7H148.06" stroke="#9a9a9a" stroke-width="1.0" fill="none"/><path d="M20.3 430.7h2M20.3 405.5h2M20.3 380.3h2M20.3 355.1h2M20.3 329.9h2M22.3 430.7v2M30.16 430.7v2M38.02 430.7v2M45.88 430.7v2M53.74 430.7v2M61.6 430.7v2M69.46 430.7v2M77.32 430.7v2M85.18 430.7v2M93.04 430.7v2M100.9 430.7v2M108.76 430.7v2M116.62 430.7v2M124.48 430.7v2M132.34 430.7v2M140.2 430.7v2M148.06 430.7v2" stroke="#9a9a9a" stroke-width="0.8" fill="none"/><path d="M34.6 366.2L35.1 373.9L35.7 383.0L36.2 393.9L36.8 403.5L37.3 411.0L37.8 416.2L38.4 419.2L38.9 421.1L39.5 422.2L40.0 422.8L40.6 423.3L41.1 423.6L41.7 423.7L42.2 423.8L42.8 423.9L43.3 423.9L43.9 424.0L44.4 424.0L45.0 424.1L45.5 424.1L46.1 424.1L46.6 424.2L47.2 424.2L47.7 424.3L48.3 424.3L48.8 424.3L49.4 424.4L49.9 424.4L50.4 424.4L51.0 424.4L51.5 424.5L52.1 424.5L52.6 424.5L53.2 424.5L53.7 424.5L54.3 424.5L54.8 424.5L55.4 424.6L55.9 424.6L56.5 424.6L57.0 424.6L57.6 424.6L58.1 424.6L58.7 424.6L59.2 424.6L59.8 424.7L60.3 424.9L60.9 425.2L61.4 425.5L62.0 425.7L62.5 425.9L63.1 426.0L63.6 426.1L64.1 426.3L64.7 426.4L65.2 426.5L65.8 426.6L66.3 426.7L66.9 426.8L67.4 427.0L68.0 427.1L68.5 427.2L69.1 427.2L69.6 427.3L70.2 427.4L70.7 427.5L71.3 427.6L71.8 427.7L72.4 427.8L72.9 427.9L73.5 427.9L74.0 428.0L74.6 428.1L75.1 428.2L75.7 428.2L76.2 428.3L76.7 428.4L77.3 428.5L77.8 428.5L78.4 428.6L78.9 428.7L79.5 428.8L80.0 428.8L80.6 428.9L81.1 429.0L81.7 429.0L82.2 429.1L82.8 429.1L83.3 429.2L83.9 429.2L84.4 429.2L85.0 429.2L85.5 429.2L86.1 429.2L86.6 429.2L87.2 429.2L87.7 429.2L88.3 429.2L88.8 429.2L89.3 429.1L89.9 429.1L90.4 429.1L91.0 429.1L91.5 429.1L92.1 429.1L92.6 429.1L93.2 429.1L93.7 429.0L94.3 429.0L94.8 429.0L95.4 429.0L95.9 429.0L96.5 429.0L97.0 428.9L97.6 428.9L98.1 428.9L98.7 428.9L99.2 428.9L99.8 428.8L100.3 428.8L100.9 428.8L101.4 428.8L101.9 428.7L102.5 428.7L103.0 428.7L103.6 428.6L104.1 428.6L104.7 428.5L105.2 428.5L105.8 428.4L106.3 428.4L106.9 428.3L107.4 428.2L108.0 428.2L108.5 428.1L109.1 428.1L109.6 428.0L110.2 428.0L110.7 427.9L111.3 427.9L111.8 427.8L112.4 427.8L112.9 427.8L113.5 427.7L114.0 427.7L114.5 427.7L115.1 427.7L115.6 427.7L116.2 427.7L116.7 427.7L117.3 427.7L117.8 427.7L118.4 427.7L118.9 427.7L119.5 427.7L120.0 427.8L120.6 427.8L121.1 427.8L121.7 427.8L122.2 427.9L122.8 427.9L123.3 427.9L123.9 428.0L124.4 428.0L125.0 428.1L125.5 428.2L126.1 428.3L126.6 428.4L127.2 428.5L127.7 428.7L128.2 428.8L128.8 428.9L129.3 429.1L129.9 429.2L130.4 429.3L131.0 429.4L131.5 429.5L132.1 429.6L132.6 429.6L133.2 429.7L133.7 429.8L134.3 429.9L134.8 430.0L135.4 430.0L135.9 430.1L136.5 430.2L137.0 430.2L137.6 430.3L138.1 430.3L138.7 430.4L139.2 430.4L139.8 430.4L140.3 430.5L140.8 430.5L141.4 430.5L141.9 430.6L142.5 430.6L143.0 430.6L143.6 430.7L144.1 430.7L144.7 430.7L145.2 430.7" stroke="#141414" stroke-width="1.25" fill="none" stroke-linejoin="round" stroke-linecap="round"/></g>
<g><text x="14.75" y="433.7" font-size="8.5" textLength="4.25" lengthAdjust="spacingAndGlyphs" stroke="#0d0d0d" stroke-width="0.12">0</text><text x="14.75" y="408.5" font-size="8.5" textLength="4.25" lengthAdjust="spacingAndGlyphs" stroke="#0d0d0d" stroke-width="0.12">5</text><text x="10.49" y="383.3" font-size="8.5" textLength="8.51" lengthAdjust="spacingAndGlyphs" stroke="#0d0d0d" stroke-width="0.12">10</text><text x="10.49" y="358.1" font-size="8.5" textLength="8.51" lengthAdjust="spacingAndGlyphs" stroke="#0d0d0d" stroke-width="0.12">15</text><text x="10.49" y="332.9" font-size="8.5" textLength="8.51" lengthAdjust="spacingAndGlyphs" stroke="#0d0d0d" stroke-width="0.12">20</text><text x="20.17" y="440.5" font-size="8.5" textLength="4.25" lengthAdjust="spacingAndGlyphs" stroke="#0d0d0d" stroke-width="0.12">0</text><text x="33.77" y="440.5" font-size="8.5" textLength="8.51" lengthAdjust="spacingAndGlyphs" stroke="#0d0d0d" stroke-width="0.12">20</text><text x="49.49" y="440.5" font-size="8.5" textLength="8.51" lengthAdjust="spacingAndGlyphs" stroke="#0d0d0d" stroke-width="0.12">40</text><text x="65.21" y="440.5" font-size="8.5" textLength="8.51" lengthAdjust="spacingAndGlyphs" stroke="#0d0d0d" stroke-width="0.12">60</text><text x="80.93" y="440.5" font-size="8.5" textLength="8.51" lengthAdjust="spacingAndGlyphs" stroke="#0d0d0d" stroke-width="0.12">80</text><text x="94.52" y="440.5" font-size="8.5" textLength="12.76" lengthAdjust="spacingAndGlyphs" stroke="#0d0d0d" stroke-width="0.12">100</text><text x="110.24" y="440.5" font-size="8.5" textLength="12.76" lengthAdjust="spacingAndGlyphs" stroke="#0d0d0d" stroke-width="0.12">120</text><text x="125.96" y="440.5" font-size="8.5" textLength="12.76" lengthAdjust="spacingAndGlyphs" stroke="#0d0d0d" stroke-width="0.12">140</text><text x="141.68" y="440.5" font-size="8.5" textLength="12.76" lengthAdjust="spacingAndGlyphs" stroke="#0d0d0d" stroke-width="0.12">160</text></g>
<g><g fill="#fff" stroke="#9c9c9c" stroke-width="1.1"><path fill="none" d="M202.11 330.8V431.6H209.07V330.8"/><rect x="209.97" y="379.18" width="6.96" height="52.42"/><rect x="217.83" y="405.9" width="6.96" height="25.7"/><rect x="225.69" y="417.49" width="6.96" height="14.11"/><rect x="233.55" y="424.39" width="6.96" height="7.21"/><rect x="241.41" y="426.91" width="6.96" height="4.69"/><rect x="249.27" y="429.58" width="6.96" height="2.02"/><rect x="257.13" y="430.34" width="6.96" height="1.26"/><rect x="264.99" y="430.84" width="6.96" height="0.76"/><rect x="272.85" y="431.1" width="6.96" height="0.5"/><rect x="280.71" y="431.35" width="6.96" height="0.25"/><rect x="288.57" y="431.35" width="6.96" height="0.25"/></g><path d="M193.8 330.8V431.6H319.56" stroke="#9a9a9a" stroke-width="1.0" fill="none"/><path d="M191.8 431.6h2M191.8 406.4h2M191.8 381.2h2M191.8 356h2M191.8 330.8h2M193.8 431.6v2M201.66 431.6v2M209.52 431.6v2M217.38 431.6v2M225.24 431.6v2M233.1 431.6v2M240.96 431.6v2M248.82 431.6v2M256.68 431.6v2M264.54 431.6v2M272.4 431.6v2M280.26 431.6v2M288.12 431.6v2M295.98 431.6v2M303.84 431.6v2M311.7 431.6v2M319.56 431.6v2" stroke="#9a9a9a" stroke-width="0.8" fill="none"/><path d="M205.1 326.5L205.7 330.7L206.2 334.8L206.8 338.8L207.3 342.9L207.9 347.1L208.4 351.0L209.0 354.2L209.5 356.8L210.0 359.2L210.6 361.9L211.1 365.2L211.7 368.9L212.2 372.7L212.8 376.2L213.3 379.2L213.9 381.8L214.4 384.3L215.0 386.6L215.5 388.7L216.1 390.8L216.6 392.8L217.2 394.8L217.7 396.6L218.3 398.4L218.8 400.1L219.4 401.6L219.9 403.1L220.5 404.4L221.0 405.7L221.6 406.9L222.1 408.1L222.7 409.3L223.2 410.5L223.7 411.7L224.3 412.8L224.8 413.9L225.4 414.9L225.9 415.8L226.5 416.7L227.0 417.5L227.6 418.3L228.1 419.0L228.7 419.7L229.2 420.4L229.8 421.0L230.3 421.5L230.9 422.1L231.4 422.6L232.0 423.1L232.5 423.5L233.1 424.0L233.6 424.4L234.2 424.8L234.7 425.2L235.3 425.5L235.8 425.8L236.3 426.1L236.9 426.4L237.4 426.7L238.0 426.9L238.5 427.1L239.1 427.4L239.6 427.6L240.2 427.8L240.7 428.0L241.3 428.1L241.8 428.3L242.4 428.5L242.9 428.6L243.5 428.7L244.0 428.9L244.6 429.0L245.1 429.1L245.7 429.2L246.2 429.3L246.8 429.4L247.3 429.5L247.9 429.5L248.4 429.6L249.0 429.7L249.5 429.8L250.0 429.8L250.6 429.9L251.1 430.0L251.7 430.0L252.2 430.1L252.8 430.1L253.3 430.2L253.9 430.2L254.4 430.3L255.0 430.3L255.5 430.4L256.1 430.4L256.6 430.5L257.2 430.5L257.7 430.6L258.3 430.6L258.8 430.6L259.4 430.7L259.9 430.7L260.5 430.7L261.0 430.8L261.6 430.8L262.1 430.8L262.6 430.8L263.2 430.9L263.7 430.9L264.3 430.9L264.8 430.9L265.4 430.9L265.9 431.0L266.5 431.0L267.0 431.0L267.6 431.0L268.1 431.0L268.7 431.1L269.2 431.1L269.8 431.1L270.3 431.1L270.9 431.1L271.4 431.1L272.0 431.1L272.5 431.2L273.1 431.2L273.6 431.2L274.2 431.2L274.7 431.2L275.3 431.2L275.8 431.2L276.3 431.2L276.9 431.2L277.4 431.3L278.0 431.3L278.5 431.3L279.1 431.3L279.6 431.3L280.2 431.3L280.7 431.3L281.3 431.3L281.8 431.3L282.4 431.3L282.9 431.3L283.5 431.3L284.0 431.4L284.6 431.4L285.1 431.4L285.7 431.4L286.2 431.4L286.8 431.4L287.3 431.4L287.9 431.4L288.4 431.4L288.9 431.4L289.5 431.4L290.0 431.4L290.6 431.4L291.1 431.4L291.7 431.4L292.2 431.4L292.8 431.4L293.3 431.4L293.9 431.5L294.4 431.5L295.0 431.5L295.5 431.5L296.1 431.5L296.6 431.5L297.2 431.5L297.7 431.5L298.3 431.5L298.8 431.5L299.4 431.5L299.9 431.5L300.5 431.5L301.0 431.5L301.6 431.5L302.1 431.5L302.6 431.5L303.2 431.5L303.7 431.5L304.3 431.5L304.8 431.5L305.4 431.6L305.9 431.6L306.5 431.6L307.0 431.6L307.6 431.6L308.1 431.6L308.7 431.6L309.2 431.6L309.8 431.6L310.3 431.6L310.9 431.6L311.4 431.6L312.0 431.6L312.5 431.6L313.1 431.6L313.6 431.6L314.2 431.6L314.7 431.6L315.2 431.6L315.8 431.6L316.3 431.6L316.9 431.6L317.4 431.6L318.0 431.6" stroke="#141414" stroke-width="1.25" fill="none" stroke-linejoin="round" stroke-linecap="round"/></g>
<g><text x="186.25" y="434.6" font-size="8.5" textLength="4.25" lengthAdjust="spacingAndGlyphs" stroke="#0d0d0d" stroke-width="0.12">0</text><text x="186.25" y="409.4" font-size="8.5" textLength="4.25" lengthAdjust="spacingAndGlyphs" stroke="#0d0d0d" stroke-width="0.12">5</text><text x="181.99" y="384.2" font-size="8.5" textLength="8.51" lengthAdjust="spacingAndGlyphs" stroke="#0d0d0d" stroke-width="0.12">10</text><text x="181.99" y="359" font-size="8.5" textLength="8.51" lengthAdjust="spacingAndGlyphs" stroke="#0d0d0d" stroke-width="0.12">15</text><text x="181.99" y="333.8" font-size="8.5" textLength="8.51" lengthAdjust="spacingAndGlyphs" stroke="#0d0d0d" stroke-width="0.12">20</text><text x="191.67" y="441.4" font-size="8.5" textLength="4.25" lengthAdjust="spacingAndGlyphs" stroke="#0d0d0d" stroke-width="0.12">0</text><text x="205.27" y="441.4" font-size="8.5" textLength="8.51" lengthAdjust="spacingAndGlyphs" stroke="#0d0d0d" stroke-width="0.12">20</text><text x="220.99" y="441.4" font-size="8.5" textLength="8.51" lengthAdjust="spacingAndGlyphs" stroke="#0d0d0d" stroke-width="0.12">40</text><text x="236.71" y="441.4" font-size="8.5" textLength="8.51" lengthAdjust="spacingAndGlyphs" stroke="#0d0d0d" stroke-width="0.12">60</text><text x="252.43" y="441.4" font-size="8.5" textLength="8.51" lengthAdjust="spacingAndGlyphs" stroke="#0d0d0d" stroke-width="0.12">80</text><text x="266.02" y="441.4" font-size="8.5" textLength="12.76" lengthAdjust="spacingAndGlyphs" stroke="#0d0d0d" stroke-width="0.12">100</text><text x="281.74" y="441.4" font-size="8.5" textLength="12.76" lengthAdjust="spacingAndGlyphs" stroke="#0d0d0d" stroke-width="0.12">120</text><text x="297.46" y="441.4" font-size="8.5" textLength="12.76" lengthAdjust="spacingAndGlyphs" stroke="#0d0d0d" stroke-width="0.12">140</text><text x="313.18" y="441.4" font-size="8.5" textLength="12.76" lengthAdjust="spacingAndGlyphs" stroke="#0d0d0d" stroke-width="0.12">160</text></g>
<g><g fill="#fff" stroke="#9c9c9c" stroke-width="1.1"><rect x="373.83" y="410.33" width="6.88" height="21.17"/><rect x="381.61" y="424.95" width="6.88" height="6.55"/><rect x="389.39" y="431" width="6.88" height="0.5"/></g><path d="M365.6 330.7V431.5H412.28" stroke="#9a9a9a" stroke-width="1.0" fill="none"/><path d="M363.6 431.5h2M363.6 406.3h2M363.6 381.1h2M363.6 355.9h2M363.6 330.7h2M365.6 431.5v2M373.38 431.5v2M381.16 431.5v2M388.94 431.5v2M396.72 431.5v2M404.5 431.5v2M412.28 431.5v2" stroke="#9a9a9a" stroke-width="0.8" fill="none"/><path d="M376.8 410.5L377.3 411.8L377.9 413.1L378.4 414.5L379.0 415.8L379.5 417.2L380.0 418.6L380.6 419.8L381.1 420.8L381.7 421.9L382.2 422.8L382.8 423.7L383.3 424.4L383.9 425.2L384.4 425.8L385.0 426.4L385.5 427.0L386.1 427.5L386.6 427.9L387.2 428.4L387.7 428.7L388.3 429.0L388.8 429.3L389.4 429.5L389.9 429.7L390.5 429.9L391.0 430.1L391.6 430.2L392.1 430.3L392.6 430.4L393.2 430.5L393.7 430.6L394.3 430.7L394.8 430.8L395.4 430.8L395.9 430.9L396.5 430.9L397.0 431.0L397.6 431.0L398.1 431.0L398.7 431.1L399.2 431.1L399.8 431.1L400.3 431.2L400.9 431.2L401.4 431.2L402.0 431.2L402.5 431.2L403.1 431.3L403.6 431.3L404.2 431.3L404.7 431.3L405.2 431.3L405.8 431.4L406.3 431.4L406.9 431.4L407.4 431.4L408.0 431.4L408.5 431.4L409.1 431.4L409.6 431.5L410.2 431.5L410.7 431.5L411.3 431.5L411.8 431.5L412.4 431.5" stroke="#141414" stroke-width="1.25" fill="none" stroke-linejoin="round" stroke-linecap="round"/></g>
<g><text x="358.05" y="434.5" font-size="8.5" textLength="4.25" lengthAdjust="spacingAndGlyphs" stroke="#0d0d0d" stroke-width="0.12">0</text><text x="358.05" y="409.3" font-size="8.5" textLength="4.25" lengthAdjust="spacingAndGlyphs" stroke="#0d0d0d" stroke-width="0.12">5</text><text x="353.79" y="384.1" font-size="8.5" textLength="8.51" lengthAdjust="spacingAndGlyphs" stroke="#0d0d0d" stroke-width="0.12">10</text><text x="353.79" y="358.9" font-size="8.5" textLength="8.51" lengthAdjust="spacingAndGlyphs" stroke="#0d0d0d" stroke-width="0.12">15</text><text x="353.79" y="333.7" font-size="8.5" textLength="8.51" lengthAdjust="spacingAndGlyphs" stroke="#0d0d0d" stroke-width="0.12">20</text><text x="363.47" y="441.3" font-size="8.5" textLength="4.25" lengthAdjust="spacingAndGlyphs" stroke="#0d0d0d" stroke-width="0.12">0</text><text x="376.91" y="441.3" font-size="8.5" textLength="8.51" lengthAdjust="spacingAndGlyphs" stroke="#0d0d0d" stroke-width="0.12">20</text><text x="392.47" y="441.3" font-size="8.5" textLength="8.51" lengthAdjust="spacingAndGlyphs" stroke="#0d0d0d" stroke-width="0.12">40</text><text x="408.03" y="441.3" font-size="8.5" textLength="8.51" lengthAdjust="spacingAndGlyphs" stroke="#0d0d0d" stroke-width="0.12">60</text></g>
<g><g fill="#fff" stroke="#9c9c9c" stroke-width="1.1"><rect x="473.2" y="397.24" width="6.85" height="33.26"/><rect x="480.95" y="427.17" width="6.85" height="3.33"/><rect x="488.7" y="430" width="6.85" height="0.5"/></g><path d="M465 329.7V430.5H511.5" stroke="#9a9a9a" stroke-width="1.0" fill="none"/><path d="M463 430.5h2M463 405.3h2M463 380.1h2M463 354.9h2M463 329.7h2M465 430.5v2M472.75 430.5v2M480.5 430.5v2M488.25 430.5v2M496 430.5v2M503.75 430.5v2M511.5 430.5v2" stroke="#9a9a9a" stroke-width="0.8" fill="none"/><path d="M476.3 397.2L476.9 400.2L477.4 403.2L477.9 406.5L478.5 409.7L479.0 412.5L479.6 415.1L480.1 417.2L480.7 419.0L481.2 420.5L481.7 421.8L482.3 422.9L482.8 423.9L483.4 424.9L483.9 425.7L484.4 426.4L485.0 427.0L485.5 427.4L486.1 427.8L486.6 428.2L487.2 428.5L487.7 428.8L488.2 429.0L488.8 429.1L489.3 429.3L489.9 429.4L490.4 429.5L490.9 429.6L491.5 429.6L492.0 429.7L492.6 429.8L493.1 429.8L493.6 429.9L494.2 429.9L494.7 430.0L495.3 430.0L495.8 430.0L496.4 430.1L496.9 430.1L497.4 430.1L498.0 430.2L498.5 430.2L499.1 430.2L499.6 430.2L500.1 430.2L500.7 430.3L501.2 430.3L501.8 430.3L502.3 430.3L502.9 430.3L503.4 430.3L503.9 430.4L504.5 430.4L505.0 430.4L505.6 430.4L506.1 430.4L506.6 430.4L507.2 430.4L507.7 430.4L508.3 430.5L508.8 430.5L509.4 430.5L509.9 430.5L510.4 430.5L511.0 430.5" stroke="#141414" stroke-width="1.25" fill="none" stroke-linejoin="round" stroke-linecap="round"/></g>
<g><text x="457.45" y="433.5" font-size="8.5" textLength="4.25" lengthAdjust="spacingAndGlyphs" stroke="#0d0d0d" stroke-width="0.12">0</text><text x="457.45" y="408.3" font-size="8.5" textLength="4.25" lengthAdjust="spacingAndGlyphs" stroke="#0d0d0d" stroke-width="0.12">5</text><text x="453.19" y="383.1" font-size="8.5" textLength="8.51" lengthAdjust="spacingAndGlyphs" stroke="#0d0d0d" stroke-width="0.12">10</text><text x="453.19" y="357.9" font-size="8.5" textLength="8.51" lengthAdjust="spacingAndGlyphs" stroke="#0d0d0d" stroke-width="0.12">15</text><text x="453.19" y="332.7" font-size="8.5" textLength="8.51" lengthAdjust="spacingAndGlyphs" stroke="#0d0d0d" stroke-width="0.12">20</text><text x="462.87" y="440.3" font-size="8.5" textLength="4.25" lengthAdjust="spacingAndGlyphs" stroke="#0d0d0d" stroke-width="0.12">0</text><text x="476.25" y="440.3" font-size="8.5" textLength="8.51" lengthAdjust="spacingAndGlyphs" stroke="#0d0d0d" stroke-width="0.12">20</text><text x="491.75" y="440.3" font-size="8.5" textLength="8.51" lengthAdjust="spacingAndGlyphs" stroke="#0d0d0d" stroke-width="0.12">40</text><text x="507.25" y="440.3" font-size="8.5" textLength="8.51" lengthAdjust="spacingAndGlyphs" stroke="#0d0d0d" stroke-width="0.12">60</text></g>
<text x="0.4" y="12.4" font-size="17.0" font-weight="bold" fill="#000" stroke="#000" stroke-width="0.4">A</text>
<text x="64.88" y="45.06" text-anchor="middle" font-size="8.6" textLength="45.95" lengthAdjust="spacingAndGlyphs" stroke="#0d0d0d" stroke-width="0.12">desA-fibrin:Fg</text>
<text x="86.7" y="140.31" text-anchor="middle" font-size="8.6" textLength="63.4" lengthAdjust="spacingAndGlyphs" stroke="#0d0d0d" stroke-width="0.12">Rupture forces, pN</text>
<text transform="translate(8.76 63.35) rotate(-90)" text-anchor="middle" font-size="8.6" textLength="44.3" lengthAdjust="spacingAndGlyphs" stroke="#0d0d0d" stroke-width="0.12">Probability, %</text>
<text x="169.15" y="12.4" font-size="17.0" font-weight="bold" fill="#000" stroke="#000" stroke-width="0.4">D</text>
<text x="247" y="46.06" text-anchor="middle" font-size="8.6" textLength="50.5" lengthAdjust="spacingAndGlyphs" stroke="#0d0d0d" stroke-width="0.12">desA-NDSK:Fg</text>
<text x="262.25" y="140.01" text-anchor="middle" font-size="8.6" textLength="63.4" lengthAdjust="spacingAndGlyphs" stroke="#0d0d0d" stroke-width="0.12">Rupture forces, pN</text>
<text transform="translate(178.76 63.35) rotate(-90)" text-anchor="middle" font-size="8.6" textLength="44.3" lengthAdjust="spacingAndGlyphs" stroke="#0d0d0d" stroke-width="0.12">Probability, %</text>
<text x="342.35" y="12.4" font-size="17.0" font-weight="bold" fill="#000" stroke="#000" stroke-width="0.4">G</text>
<text x="426.2" y="44.66" text-anchor="middle" font-size="8.6" textLength="78.7" lengthAdjust="spacingAndGlyphs" stroke="#0d0d0d" stroke-width="0.12">desA-NDSK:fragment D</text>
<text x="435" y="141.01" text-anchor="middle" font-size="8.6" textLength="63.4" lengthAdjust="spacingAndGlyphs" stroke="#0d0d0d" stroke-width="0.12">Rupture forces, pN</text>
<text transform="translate(351.16 63.65) rotate(-90)" text-anchor="middle" font-size="8.6" textLength="44.3" lengthAdjust="spacingAndGlyphs" stroke="#0d0d0d" stroke-width="0.12">Probability, %</text>
<text x="-0.6" y="168.9" font-size="17.0" font-weight="bold" fill="#000" stroke="#000" stroke-width="0.4">B</text>
<text x="77.15" y="197.36" text-anchor="middle" font-size="8.6" textLength="71.2" lengthAdjust="spacingAndGlyphs" stroke="#0d0d0d" stroke-width="0.12">desA-fibrin:Fg+GPRP</text>
<text x="90.85" y="295.61" text-anchor="middle" font-size="8.6" textLength="63.4" lengthAdjust="spacingAndGlyphs" stroke="#0d0d0d" stroke-width="0.12">Rupture forces, pN</text>
<text transform="translate(8.76 218.75) rotate(-90)" text-anchor="middle" font-size="8.6" textLength="44.3" lengthAdjust="spacingAndGlyphs" stroke="#0d0d0d" stroke-width="0.12">Probability, %</text>
<text x="169.05" y="168.9" font-size="17.0" font-weight="bold" fill="#000" stroke="#000" stroke-width="0.4">E</text>
<text x="261.15" y="198.36" text-anchor="middle" font-size="8.6" textLength="76" lengthAdjust="spacingAndGlyphs" stroke="#0d0d0d" stroke-width="0.12">desA-NDSK:Fg+GPRP</text>
<text x="263.15" y="298.91" text-anchor="middle" font-size="8.6" textLength="63.4" lengthAdjust="spacingAndGlyphs" stroke="#0d0d0d" stroke-width="0.12">Rupture forces, pN</text>
<text transform="translate(180.16 220.1) rotate(-90)" text-anchor="middle" font-size="8.6" textLength="44.3" lengthAdjust="spacingAndGlyphs" stroke="#0d0d0d" stroke-width="0.12">Probability, %</text>
<text x="341.45" y="168.9" font-size="17.0" font-weight="bold" fill="#000" stroke="#000" stroke-width="0.4">H</text>
<text x="436.25" y="196.86" text-anchor="middle" font-size="8.6" textLength="102.6" lengthAdjust="spacingAndGlyphs" stroke="#0d0d0d" stroke-width="0.12">desA-NDSK:fragment D+GPRP</text>
<text x="431.5" y="299.01" text-anchor="middle" font-size="8.6" textLength="63.4" lengthAdjust="spacingAndGlyphs" stroke="#0d0d0d" stroke-width="0.12">Rupture forces, pN</text>
<text transform="translate(351.36 219.05) rotate(-90)" text-anchor="middle" font-size="8.6" textLength="44.3" lengthAdjust="spacingAndGlyphs" stroke="#0d0d0d" stroke-width="0.12">Probability, %</text>
<text x="-0.5" y="323.7" font-size="17.0" font-weight="bold" fill="#000" stroke="#000" stroke-width="0.4">C</text>
<text x="52.15" y="351.36" text-anchor="middle" font-size="8.6" textLength="19.6" lengthAdjust="spacingAndGlyphs" stroke="#0d0d0d" stroke-width="0.12">Fg:Fg</text>
<text x="92.3" y="450.01" text-anchor="middle" font-size="8.6" textLength="63.4" lengthAdjust="spacingAndGlyphs" stroke="#0d0d0d" stroke-width="0.12">Rupture forces, pN</text>
<text transform="translate(8.76 374.95) rotate(-90)" text-anchor="middle" font-size="8.6" textLength="44.3" lengthAdjust="spacingAndGlyphs" stroke="#0d0d0d" stroke-width="0.12">Probability, %</text>
<text x="168.5" y="323.7" font-size="17.0" font-weight="bold" fill="#000" stroke="#000" stroke-width="0.4">F</text>
<text x="239.28" y="350.56" text-anchor="middle" font-size="8.6" textLength="31.55" lengthAdjust="spacingAndGlyphs" stroke="#0d0d0d" stroke-width="0.12">NDSK:Fg</text>
<text x="260.5" y="452.41" text-anchor="middle" font-size="8.6" textLength="63.4" lengthAdjust="spacingAndGlyphs" stroke="#0d0d0d" stroke-width="0.12">Rupture forces, pN</text>
<text transform="translate(179.46 374.75) rotate(-90)" text-anchor="middle" font-size="8.6" textLength="44.3" lengthAdjust="spacingAndGlyphs" stroke="#0d0d0d" stroke-width="0.12">Probability, %</text>
<text x="342.2" y="323.7" font-size="17.0" font-weight="bold" fill="#000" stroke="#000" stroke-width="0.4">I</text>
<text x="398.75" y="351.86" text-anchor="middle" font-size="8.6" textLength="57.4" lengthAdjust="spacingAndGlyphs" stroke="#0d0d0d" stroke-width="0.12">desA-NDSK:BSA</text>
<text x="389.35" y="452.41" text-anchor="middle" font-size="8.6" textLength="63.4" lengthAdjust="spacingAndGlyphs" stroke="#0d0d0d" stroke-width="0.12">Rupture forces, pN</text>
<text transform="translate(350.76 374.95) rotate(-90)" text-anchor="middle" font-size="8.6" textLength="44.3" lengthAdjust="spacingAndGlyphs" stroke="#0d0d0d" stroke-width="0.12">Probability, %</text>
<text x="441.15" y="323.7" font-size="17.0" font-weight="bold" fill="#000" stroke="#000" stroke-width="0.4">J</text>
<text x="489.55" y="352.66" text-anchor="middle" font-size="8.6" textLength="25.8" lengthAdjust="spacingAndGlyphs" stroke="#0d0d0d" stroke-width="0.12">Fg:BSA</text>
<text x="488.6" y="452.41" text-anchor="middle" font-size="8.6" textLength="63.4" lengthAdjust="spacingAndGlyphs" stroke="#0d0d0d" stroke-width="0.12">Rupture forces, pN</text>
<text transform="translate(450.66 373.7) rotate(-90)" text-anchor="middle" font-size="8.6" textLength="44.3" lengthAdjust="spacingAndGlyphs" stroke="#0d0d0d" stroke-width="0.12">Probability, %</text>
</svg>
</body></html>
